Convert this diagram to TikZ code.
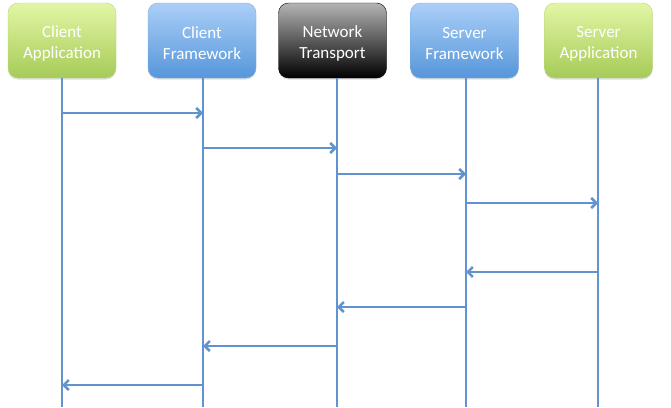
\documentclass[tikz,border=0pt]{standalone}
\usepackage{fontspec}
\setmainfont{Carlito}
\usetikzlibrary{arrows.meta,shadows}
\definecolor{appTop}{HTML}{E2F6A4}
\definecolor{appBot}{HTML}{A6CB58}
\definecolor{fwTop}{HTML}{ABCFF8}
\definecolor{fwBot}{HTML}{5696DA}
\definecolor{netTop}{HTML}{B4B4B4}
\definecolor{netBot}{HTML}{000000}
\definecolor{lifeblue}{HTML}{6093CF}
\tikzset{
  actor/.style={rounded corners=10pt,minimum width=108pt,minimum height=75pt,
    align=center,text=white,font=\fontsize{17}{21}\selectfont,text height=39pt,
    drop shadow={shadow xshift=0pt,shadow yshift=-1.5pt,opacity=0.25}},
  appbox/.style={actor,draw=appBot!80!black!40!appTop,top color=appTop,bottom color=appBot},
  fwbox/.style={actor,draw=fwBot!80!black!40!fwTop,top color=fwTop,bottom color=fwBot},
  netbox/.style={actor,draw=black,top color=netTop,bottom color=netBot},
  life/.style={draw=lifeblue,line width=2.5pt},
  msg/.style={draw=lifeblue,line width=2.5pt,-{Straight Barb[length=5pt,width=10pt]}}
}
\begin{document}
\begin{tikzpicture}[x=1pt,y=-1pt]
\useasboundingbox (0,0) rectangle (671,407);
% actors
\node[appbox] (ca) at (62,40.5) {Client\\Application};
\node[fwbox] (cf) at (202,40.5) {Client\\Framework};
\node[netbox] (nt) at (332.5,40.5) {Network\\Transport};
\node[fwbox] (sf) at (464.5,40.5) {Server\\Framework};
\node[appbox] (sa) at (598.5,40.5) {Server\\Application};

% lifelines
\coordinate (caend) at (62,407);
\coordinate (cfend) at (203,407);
\coordinate (ntend) at (337,407);
\coordinate (sfend) at (466,407);
\coordinate (saend) at (598,407);
\draw[life] (ca.south -| caend) -- (caend);
\draw[life] (cf.south -| cfend) -- (cfend);
\draw[life] (nt.south -| ntend) -- (ntend);
\draw[life] (sf.south -| sfend) -- (sfend);
\draw[life] (sa.south -| saend) -- (saend);

% requests
\draw[msg] (caend |- 0,113) -- (cfend |- 0,113);
\draw[msg] (cfend |- 0,148) -- (ntend |- 0,148);
\draw[msg] (ntend |- 0,174) -- (sfend |- 0,174);
\draw[msg] (sfend |- 0,203) -- (saend |- 0,203);
% replies
\draw[msg] (saend |- 0,272) -- (sfend |- 0,272);
\draw[msg] (sfend |- 0,307) -- (ntend |- 0,307);
\draw[msg] (ntend |- 0,346) -- (cfend |- 0,346);
\draw[msg] (cfend |- 0,385) -- (caend |- 0,385);
\end{tikzpicture}
\end{document}
